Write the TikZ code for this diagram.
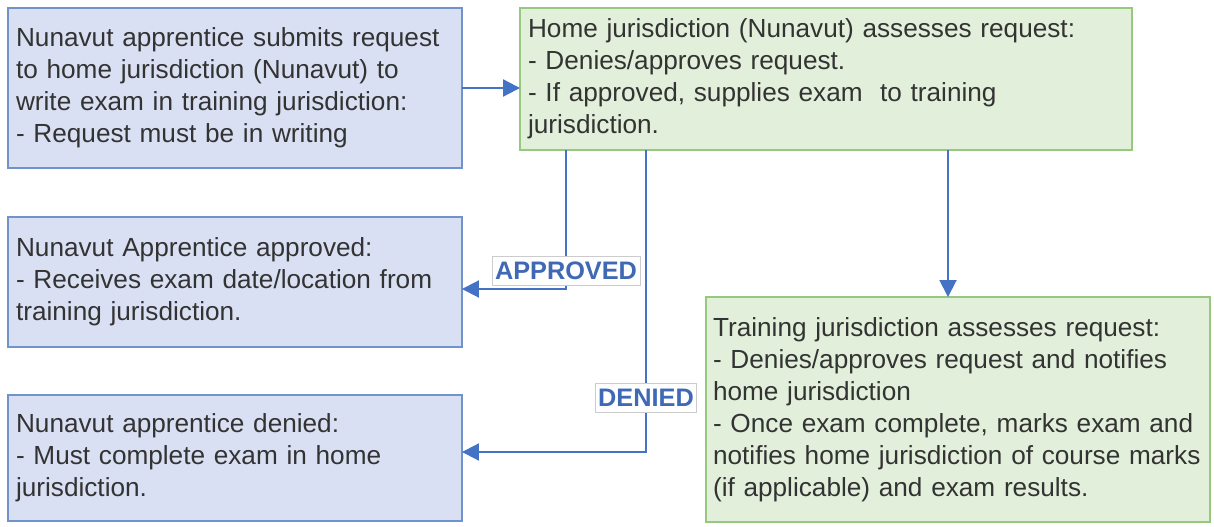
\documentclass[tikz,border=0pt]{standalone}
\usepackage{fontspec}
\setmainfont{Liberation Sans}
\usetikzlibrary{arrows.meta}

\definecolor{bluefill}{HTML}{DAE0F3}
\definecolor{blueline}{HTML}{7093CC}
\definecolor{greenfill}{HTML}{E2EFDA}
\definecolor{greenline}{HTML}{98C77E}
\definecolor{arrowblue}{HTML}{4472C4}
\definecolor{labelblue}{HTML}{3F68B5}
\definecolor{txtgray}{HTML}{333333}

\tikzset{
  flowbox/.style={draw, line width=1.2pt, align=left, inner xsep=0.16cm,
    outer sep=0pt, text=txtgray, font=\fontsize{14.9}{18.2}\selectfont},
  bluebox/.style={flowbox, fill=bluefill, draw=blueline},
  greenbox/.style={flowbox, fill=greenfill, draw=greenline},
  flowarrow/.style={draw=arrowblue, line width=1.1pt,
    -{Triangle[length=0.34cm,width=0.34cm]}},
  pathlabel/.style={fill=white, draw=gray!40, line width=0.5pt, text=labelblue,
    font=\fontsize{14.4}{16}\selectfont\bfseries, inner xsep=0.06cm, inner ysep=0.12cm},
}

\begin{document}
\begin{tikzpicture}[x=0.02cm,y=-0.02cm]
 \useasboundingbox (0,0) rectangle (1214,527);
 % boxes
 \node[bluebox, text width=8.76cm, minimum height=3.2cm] (submit) at (235,88)
   {Nunavut apprentice submits request\\to home jurisdiction (Nunavut) to\\write exam in training jurisdiction:\\- Request must be in writing};
 \node[greenbox, text width=11.92cm, minimum height=2.84cm] (homecheck) at (826,79)
   {Home jurisdiction (Nunavut) assesses request:\\- Denies/approves request.\\- If approved, supplies exam \ to training\\jurisdiction.};
 \node[bluebox, text width=8.76cm, minimum height=2.6cm] (approved) at (235,282)
   {Nunavut Apprentice approved:\\- Receives exam date/location from\\training jurisdiction.};
 \node[bluebox, text width=8.76cm, minimum height=2.52cm] (denied) at (235,458)
   {Nunavut apprentice denied:\\- Must complete exam in home\\jurisdiction.};
 \node[greenbox, inner xsep=0.14cm, text width=9.8cm, minimum height=4.5cm] (traincheck) at (958,409.5)
   {Training jurisdiction assesses request:\\- Denies/approves request and notifies\\home jurisdiction\\- Once exam complete, marks exam and\\notifies home jurisdiction of course marks\\(if applicable) and exam results.};
 % connectors
 \draw[flowarrow] (submit.east) -- (submit.east -| homecheck.west);
 \draw[flowarrow] (homecheck.south -| 948,0) -- (traincheck.north -| 948,0);
 \draw[flowarrow] (homecheck.south -| 566,0) |- (approved.east |- 0,289)
   node[pathlabel, pos=0.435] (approvedtag) {APPROVED};
 \draw[flowarrow] (homecheck.south -| 646,0) |- (denied.east |- 0,452)
   node[pathlabel, pos=0.41] (deniedtag) {DENIED};
\end{tikzpicture}
\end{document}
